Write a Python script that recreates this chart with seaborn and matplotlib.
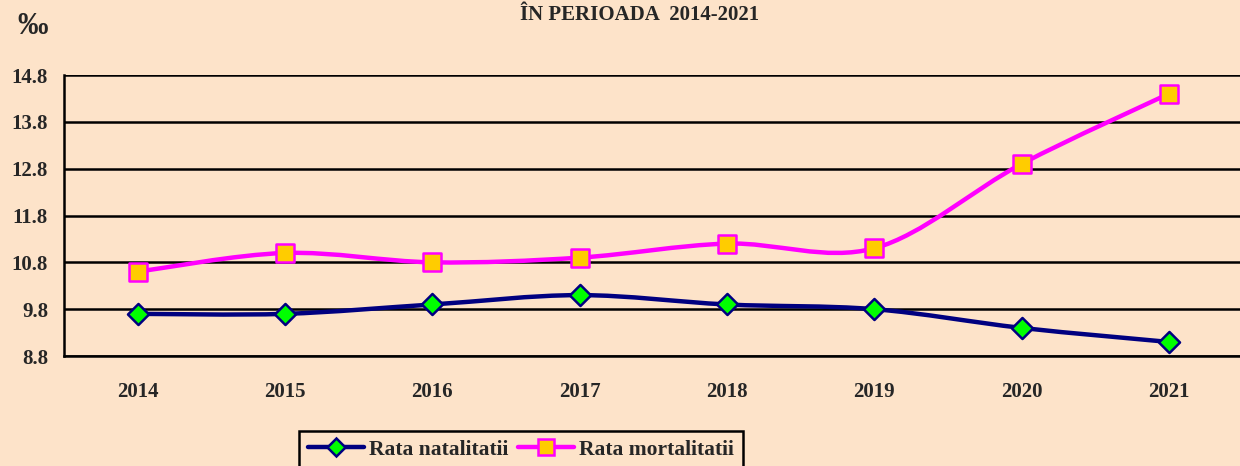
import numpy as np
import pandas as pd
import matplotlib
matplotlib.use("Agg")
import matplotlib.pyplot as plt
from matplotlib.path import Path
from matplotlib.patches import PathPatch
from matplotlib.lines import Line2D
import seaborn as sns

years = ["2014", "2015", "2016", "2017", "2018", "2019", "2020", "2021"]
natalitate = [9.7, 9.7, 9.9, 10.1, 9.9, 9.8, 9.4, 9.1]
mortalitate = [10.6, 11.0, 10.8, 10.9, 11.2, 11.1, 12.9, 14.4]
y_ticks = [8.8, 9.8, 10.8, 11.8, 12.8, 13.8, 14.8]

BG = "#FDE3C9"
NAVY = "#000080"
MAGENTA = "#FF00FF"

sns.set_style("white")
plt.rcParams["font.family"] = ["Liberation Serif", "DejaVu Serif"]
plt.rcParams["font.weight"] = "bold"

df = pd.DataFrame({
    "x": list(range(len(years))) * 2,
    "val": natalitate + mortalitate,
    "serie": ["Rata natalitatii"] * len(years) + ["Rata mortalitatii"] * len(years),
})

fig = plt.figure(figsize=(12.4, 4.66), dpi=100, facecolor=BG)
ax = fig.add_axes([64 / 1240, 1 - 356 / 466, 1 - 64 / 1240 + 0.002, (356 - 75) / 466])
ax.set_facecolor(BG)


def smooth_path(xs, ys):
    # Excel-style smoothed line: Bezier segments through the data points
    pts = np.column_stack([xs, ys]).astype(float)
    n = len(pts)
    verts = [pts[0]]
    codes = [Path.MOVETO]
    for i in range(n - 1):
        p0 = pts[i - 1] if i > 0 else pts[i]
        p1, p2 = pts[i], pts[i + 1]
        p3 = pts[i + 2] if i + 2 < n else pts[i + 1]
        c1 = p1 + (p2 - p0) / 6
        c2 = p2 - (p3 - p1) / 6
        verts += [c1, c2, p2]
        codes += [Path.CURVE4] * 3
    return Path(verts, codes)


xs = np.arange(len(years))
ax.add_patch(PathPatch(smooth_path(xs, natalitate), fill=False, edgecolor=NAVY,
                       lw=3.2, capstyle="round", joinstyle="round", zorder=3))
ax.add_patch(PathPatch(smooth_path(xs, mortalitate), fill=False, edgecolor=MAGENTA,
                       lw=3.2, capstyle="round", joinstyle="round", zorder=3))

sns.scatterplot(data=df[df.serie == "Rata natalitatii"], x="x", y="val", marker="D",
                s=115, color="#00FF00", edgecolor=NAVY, linewidth=1.8, ax=ax,
                zorder=4, legend=False)
sns.scatterplot(data=df[df.serie == "Rata mortalitatii"], x="x", y="val", marker="s",
                s=175, color="#FFCC00", edgecolor=MAGENTA, linewidth=1.8, ax=ax,
                zorder=4, legend=False)

ax.set_xlim(-0.5, len(years) - 0.5)
ax.set_ylim(y_ticks[0], y_ticks[-1])
ax.set_yticks(y_ticks)
ax.set_yticklabels([f"{v:.1f}" for v in y_ticks], fontsize=15, fontweight="bold")
ax.yaxis.grid(True, color="black", lw=1.8)
ax.set_axisbelow(True)

ax.set_xticks(np.arange(-0.5, len(years)), minor=False)
ax.set_xticklabels([])
ax.set_xticks(xs, minor=True)
ax.set_xticklabels(years, minor=True, fontsize=15, fontweight="bold")
ax.tick_params(axis="x", which="major", direction="out", length=4.5, width=1.8, color="black")
ax.tick_params(axis="x", which="minor", length=0, pad=19)
ax.tick_params(axis="y", direction="out", length=4.5, width=1.8, color="black", pad=7)
ax.set_xlabel("")
ax.set_ylabel("")

for side in ["top", "right"]:
    ax.spines[side].set_visible(False)
for side in ["left", "bottom"]:
    ax.spines[side].set_color("black")
    ax.spines[side].set_linewidth(1.8)

fig.text(640 / 1240, 1 - 15 / 466, "ÎN PERIOADA  2014-2021", ha="center", va="center",
         fontsize=15, fontweight="bold")
fig.text(33 / 1240, 1 - 27 / 466, "‰", ha="center", va="center", fontsize=22,
         fontweight="bold")

handles = [
    Line2D([], [], color=NAVY, lw=3.2, marker="D", markersize=9.5,
           markerfacecolor="#00FF00", markeredgecolor=NAVY, markeredgewidth=1.8),
    Line2D([], [], color=MAGENTA, lw=3.2, marker="s", markersize=11,
           markerfacecolor="#FFCC00", markeredgecolor=MAGENTA, markeredgewidth=1.8),
]
leg = fig.legend(handles, ["Rata natalitatii", "Rata mortalitatii"], ncol=2,
                 loc="upper left", bbox_to_anchor=(299 / 1240, 1 - 431 / 466),
                 borderaxespad=0, frameon=True, fancybox=False, edgecolor="black",
                 facecolor=BG, framealpha=1, handlelength=2.6, handletextpad=0.25,
                 columnspacing=0.45, borderpad=0.4, prop={"weight": "bold", "size": 15.5})
leg.get_frame().set_linewidth(1.8)

fig.savefig("out.png", dpi=100, facecolor=BG)
